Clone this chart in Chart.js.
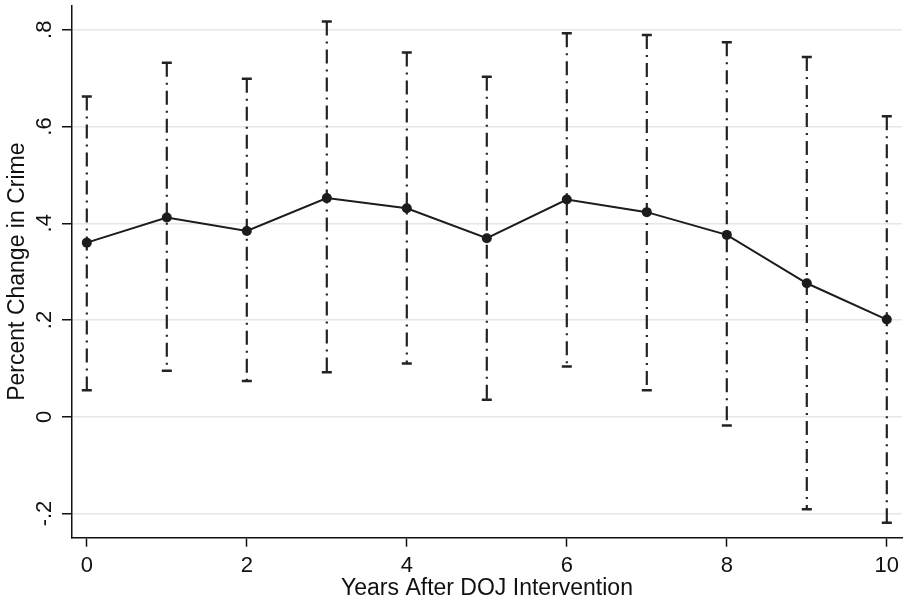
<!DOCTYPE html>
<html>
<head>
<meta charset="utf-8">
<script src="https://cdn.jsdelivr.net/npm/chart.js@4.4.1/dist/chart.umd.min.js"></script>
<style>
  html, body { margin: 0; padding: 0; background: #fff; }
</style>
</head>
<body>
<canvas id="crimeChart" width="904" height="601"></canvas>
<script>
// values
const years = [0, 1, 2, 3, 4, 5, 6, 7, 8, 9, 10];
const estimate = [0.360, 0.412, 0.384, 0.452, 0.431, 0.369, 0.449, 0.423, 0.376, 0.276, 0.201];
const upperCI = [0.662, 0.732, 0.699, 0.817, 0.753, 0.703, 0.793, 0.789, 0.774, 0.744, 0.621];
const lowerCI = [0.055, 0.095, 0.074, 0.092, 0.110, 0.035, 0.104, 0.055, -0.018, -0.191, -0.219];
const xTicks = [0, 2, 4, 6, 8, 10];
const yTicks = [-0.2, 0, 0.2, 0.4, 0.6, 0.8];
const yTickLabels = ['-.2', '0', '.2', '.4', '.6', '.8'];

const FONT = "'Liberation Sans', Arial, sans-serif";
const INK = '#1c1c1c';

const datasets = [{
  label: 'Percent change',
  data: years.map((x, i) => ({ x: x, y: estimate[i] })),
  showLine: true,
  borderColor: INK,
  borderWidth: 2,
  pointRadius: 5,
  pointBackgroundColor: INK,
  pointBorderWidth: 0,
  order: 0
}];

// one dash-dot segment per year for the confidence interval, caps drawn as 'line' points
years.forEach((x, i) => {
  datasets.push({
    label: 'CI ' + x,
    data: [{ x: x, y: upperCI[i] }, { x: x, y: lowerCI[i] }],
    showLine: true,
    borderColor: '#222',
    borderWidth: 2.2,
    borderDash: [14, 6, 2, 6],
    pointStyle: 'line',
    pointRadius: 5,
    pointBorderWidth: 2.5,
    pointBorderColor: '#222',
    order: 1
  });
});

const ctx = document.getElementById('crimeChart').getContext('2d');
const crimeChart = new Chart(ctx, {
  type: 'scatter',
  data: { datasets: datasets },
  options: {
    responsive: false,
    animation: false,
    layout: { autoPadding: false, padding: { top: 5.6, right: 2, left: 0, bottom: 0 } },
    plugins: { legend: { display: false }, tooltip: { enabled: false } },
    scales: {
      x: {
        type: 'linear',
        min: -0.185,
        max: 10.19,
        afterBuildTicks: (scale) => { scale.ticks = xTicks.map(v => ({ value: v })); },
        afterFit: (scale) => {
          scale.height = 63.3;
          scale.paddingLeft = 0; scale.paddingRight = 0;
        },
        grid: { drawOnChartArea: false, tickLength: 9, tickColor: '#111', tickWidth: 1.5 },
        border: { color: '#111', width: 1.5 },
        ticks: {
          color: '#111',
          font: { family: FONT, size: 22 },
          padding: 6,
          maxRotation: 0,
          callback: (v) => String(v)
        },
        title: {
          display: true,
          text: 'Years After DOJ Intervention',
          color: '#111',
          font: { family: FONT, size: 23, lineHeight: 1 },
          padding: { top: 0, bottom: 1 }
        }
      },
      y: {
        type: 'linear',
        min: -0.25,
        max: 0.85,
        afterBuildTicks: (scale) => { scale.ticks = yTicks.map(v => ({ value: v })); },
        afterFit: (scale) => {
          scale.width = 72;
          scale.paddingTop = 0; scale.paddingBottom = 0;
        },
        grid: { color: '#e6e6e6', lineWidth: 1.5, tickLength: 10, tickColor: '#111', tickWidth: 1.5 },
        border: { color: '#111', width: 1.5 },
        ticks: {
          color: '#111',
          font: { family: FONT, size: 22 },
          padding: 4,
          minRotation: 90,
          maxRotation: 90,
          crossAlign: 'center',
          callback: (v) => yTickLabels[yTicks.findIndex(t => Math.abs(t - v) < 1e-9)]
        },
        title: {
          display: true,
          text: 'Percent Change in Crime',
          color: '#111',
          font: { family: FONT, size: 23, lineHeight: 1 },
          padding: { top: 6, bottom: 0 }
        }
      }
    }
  }
});
</script>
</body>
</html>
